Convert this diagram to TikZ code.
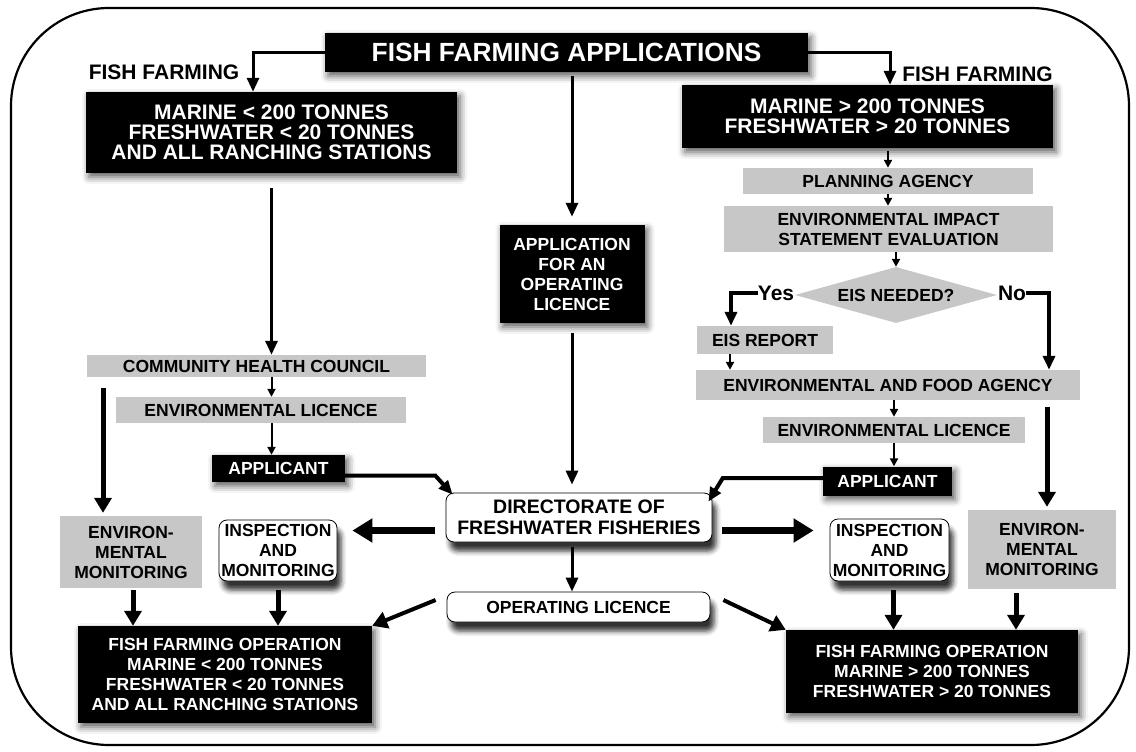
\documentclass[tikz,border=0pt]{standalone}
\usepackage{fontspec}
\setmainfont{Liberation Sans}
\usetikzlibrary{arrows.meta,calc,shapes.geometric,shadows.blur}
\tikzset{
  txt/.style={font=\bfseries\fontsize{17.5}{20}\selectfont,align=center,inner sep=0pt},
  txtbig/.style={font=\bfseries\fontsize{21}{20}\selectfont,align=center,inner sep=0pt},
  blk/.style={txt,fill=black,text=white,
    blur shadow={shadow xshift=3pt,shadow yshift=-4pt,shadow blur radius=7pt,shadow opacity=65}},
  gry/.style={txt,fill=black!22},
  wht/.style={txt,draw,fill=white,line width=.8pt,rounded corners=8pt,
    blur shadow={shadow xshift=4pt,shadow yshift=-9pt,shadow blur radius=5pt,shadow opacity=80}},
  arS/.style={line width=2pt,-{Triangle[width=8pt,length=8pt]}},
  arM/.style={line width=3pt,-{Triangle[width=12pt,length=14pt]}},
  arB/.style={line width=5pt,-{Triangle[width=17pt,length=15pt]}},
  arH/.style={line width=7pt,-{Triangle[width=23pt,length=20pt]}}
}
\begin{document}
\begin{tikzpicture}[x=1pt,y=-1pt]
  \useasboundingbox (0,0) rectangle (1136,752);
  \draw[line width=2.2pt,rounded corners=98pt] (11,8) rectangle (1129,745);

  \node[blk,font=\bfseries\fontsize{26.3}{28}\selectfont,minimum width=483pt,minimum height=39pt] (title) at (566.5,52.5) {FISH FARMING APPLICATIONS};
  \node[txtbig] (lblL) at (164,72) {FISH FARMING};
  \node[txtbig] (lblR) at (977.5,74) {FISH FARMING};
  \node[blk,txtbig,text=white,minimum width=371pt,minimum height=81pt] (boxL) at (271.5,132.5) {MARINE < 200 TONNES\\FRESHWATER < 20 TONNES\\AND ALL RANCHING STATIONS};
  \node[blk,txtbig,text=white,minimum width=371pt,minimum height=63pt] (boxR) at (867.5,116.5) {MARINE > 200 TONNES\\FRESHWATER > 20 TONNES};
  \node[blk,minimum width=145pt,minimum height=98pt] (app) at (572,274) {APPLICATION\\FOR AN\\OPERATING\\LICENCE};

  \node[gry,minimum width=339pt,minimum height=22pt] (chc) at (256.5,366) {COMMUNITY HEALTH COUNCIL};
  \node[gry,minimum width=290pt,minimum height=26pt] (licL) at (261,410) {ENVIRONMENTAL LICENCE};
  \node[blk,minimum width=133pt,minimum height=27pt] (applL) at (278.5,468.5) {APPLICANT};
  \node[gry,minimum width=142pt,minimum height=72pt] (monL) at (131,552) {ENVIRON-\\MENTAL\\MONITORING};
  \node[wht,minimum width=118pt,minimum height=61pt] (inspL) at (278,550.5) {INSPECTION\\AND\\MONITORING};

  \node[wht,font=\bfseries\fontsize{19.5}{21}\selectfont,minimum width=266pt,minimum height=49pt] (dir) at (579,517.5) {DIRECTORATE OF\\FRESHWATER FISHERIES};
  \node[wht,minimum width=263pt,minimum height=30pt] (oplic) at (578.5,607) {OPERATING LICENCE};
  \node[blk,minimum width=294pt,minimum height=97pt] (opL) at (225,674.5) {FISH FARMING OPERATION\\MARINE < 200 TONNES\\FRESHWATER < 20 TONNES\\AND ALL RANCHING STATIONS};
  \node[blk,minimum width=292pt,minimum height=83pt] (opR) at (932,671.5) {FISH FARMING OPERATION\\MARINE > 200 TONNES\\FRESHWATER > 20 TONNES};

  \node[gry,minimum width=290pt,minimum height=26pt] (plan) at (888,181) {PLANNING AGENCY};
  \node[gry,minimum width=329pt,minimum height=46pt] (eval) at (888.5,229) {ENVIRONMENTAL IMPACT\\STATEMENT EVALUATION};
  \node[gry,diamond,aspect=3.6,minimum width=202pt,minimum height=56pt] (need) at (896,295) {EIS NEEDED?};
  \node[txtbig,font=\bfseries\fontsize{21}{21}\selectfont] (yes) at (776,293) {Yes};
  \node[txtbig,font=\bfseries\fontsize{21}{21}\selectfont] (no) at (1012,293) {No};
  \node[gry,minimum width=136pt,minimum height=28pt] (eis) at (765,340) {EIS REPORT};
  \node[gry,minimum width=384pt,minimum height=30pt] (food) at (888,385) {ENVIRONMENTAL AND FOOD AGENCY};
  \node[gry,minimum width=262pt,minimum height=26pt] (licR) at (894,430) {ENVIRONMENTAL LICENCE};
  \node[blk,minimum width=129pt,minimum height=29pt] (applR) at (887.5,481) {APPLICANT};
  \node[wht,minimum width=119pt,minimum height=62pt] (inspR) at (889.5,550) {INSPECTION\\AND\\MONITORING};
  \node[gry,minimum width=148pt,minimum height=79pt] (monR) at (1042,549.5) {ENVIRON-\\MENTAL\\MONITORING};

  \draw[arM] (title.west) -| ([xshift=-18.5pt]boxL.north);
  \draw[arM] (title.east) -| ([xshift=22.5pt]boxR.north);
  \draw[arM,shorten <=4pt,shorten >=8pt] (app.north |- title.south) -- (app.north);
  \draw[arM,shorten <=10pt,shorten >=8pt] (app.south) -- (app.south |- dir.north);

  \draw[arM,shorten <=15pt] (boxL.south) -- (boxL.south |- chc.north);
  \draw[arS] (boxL.south |- chc.south) -- (boxL.south |- licL.north);
  \draw[arS] (boxL.south |- licL.south) -- (boxL.south |- applL.north);
  \draw[arM,line width=4pt] ([yshift=-7pt]applL.east) -- ++(90pt,0) -- ([xshift=7pt,yshift=-2pt]dir.north west);
  \draw[arB,shorten <=11pt,shorten >=3pt] ([xshift=-28pt]monL.north |- chc.south) -- ([xshift=-28pt]monL.north);

  \draw[arS,shorten <=3pt] (plan.north |- boxR.south) -- (plan.north);
  \draw[arS] (plan.south) -- (plan.south |- eval.north);
  \draw[arS] (need.north |- eval.south) -- (need.north);
  \draw[arM,line width=4pt] (yes.west) -| ([xshift=-34pt]eis.north);
  \draw[arM,line width=4pt] (no.east) -| ([xshift=161pt]food.north);
  \draw[arS] ([xshift=-35pt]eis.south) -- ([xshift=-35pt]eis.south |- food.north);
  \draw[arS] (licR.north |- food.south) -- (licR.north);
  \draw[arS] (licR.south) -- (licR.south |- applR.north);
  \draw[arM,line width=4pt] ([yshift=3pt]applR.west) -- ++(-100pt,0) -- ([xshift=-4pt,yshift=-9pt]dir.north east);
  \draw[arB,shorten <=7pt,shorten >=3pt] ([xshift=5pt]monR.north |- food.south) -- ([xshift=5pt]monR.north);

  \draw[arH,shorten <=11pt,shorten >=15pt] ([yshift=-13pt]dir.west) -- ([yshift=-13pt]dir.west -| inspL.east);
  \draw[arH,shorten <=10pt,shorten >=16pt] ([yshift=-13pt]dir.east) -- ([yshift=-13pt]dir.east -| inspR.west);
  \draw[arM,shorten <=5pt] ([xshift=-7pt]dir.south) -- ([xshift=-7pt]dir.south |- oplic.north);
  \draw[arB,line width=4pt] ([xshift=-11pt,yshift=7pt]oplic.west) -- (opL.north east);
  \draw[arB,line width=4pt] ([xshift=13pt,yshift=7pt]oplic.east) -- (opR.north west);

  \draw[arB,shorten <=2pt] ([xshift=2pt]monL.south) -- ([xshift=2pt]monL.south |- opL.north);
  \draw[arB,shorten <=9pt] (inspL.south) -- (inspL.south |- opL.north);
  \draw[arB,shorten <=9pt] ([xshift=4pt]inspR.south) -- ([xshift=4pt]inspR.south |- opR.north);
  \draw[arB,shorten <=4pt] ([xshift=-26pt]monR.south) -- ([xshift=-26pt]monR.south |- opR.north);
\end{tikzpicture}
\end{document}
